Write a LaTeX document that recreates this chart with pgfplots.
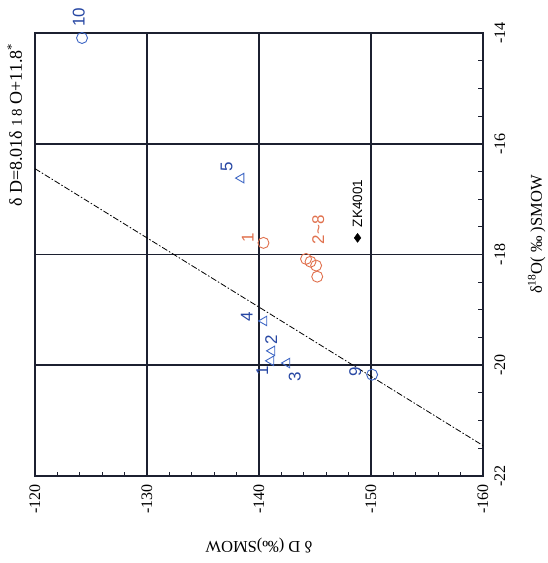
\documentclass[border=0pt]{standalone}
\usepackage{fontspec}
\setmainfont{Liberation Serif}
\newfontfamily\labelfont{Liberation Sans}
\usepackage{pgfplots}
\pgfplotsset{compat=1.18}

\definecolor{gridc}{HTML}{1C2030}
\definecolor{bluemk}{HTML}{3D66C4}
\definecolor{bluetx}{HTML}{2747A3}
\definecolor{redmk}{HTML}{E0714E}

\begin{document}
\begin{tikzpicture}[x=1pt,y=1pt]
\path[use as bounding box] (-35,-87) rectangle (513,476);
\begin{axis}[
  at={(0,0)}, anchor=south west,
  scale only axis, width=448pt, height=443pt,
  clip=false,
  xmin=-160, xmax=-120, x dir=reverse,
  ymin=-22, ymax=-14,
  xtick={-160,-150,...,-120}, ytick={-22,-20,...,-14},
  minor x tick num=4, minor y tick num=3,
  xtick pos=left, ytick pos=right,
  xticklabel pos=left, yticklabel pos=right,
  tick align=inside,
  major tick length=0pt, minor tick length=4.5pt,
  grid=major,
  major grid style={draw=gridc, line width=1.7pt},
  axis line style={draw=gridc, line width=1.5pt},
  tick style={draw=gridc, line width=1pt},
  /pgf/number format/assume math mode=true,
  tick label style={font=\fontsize{16}{18}\selectfont},
  xticklabel style={rotate=90, anchor=east},
  yticklabel style={rotate=90, anchor=north},
  xticklabel shift=5pt, yticklabel shift=8pt,
  xlabel={δ D (‰)SMOW}, ylabel={δ\textsuperscript{18}O( ‰ )SMOW},
  every axis x label/.style={at={(axis description cs:0.5,-0.158)}, anchor=center, rotate=180, font=\fontsize{16.5}{18}\selectfont},
  every axis y label/.style={at={(axis description cs:1.12,0.545)}, anchor=center, rotate=90, font=\fontsize{16.5}{18}\selectfont},
]
% meteoric water line dD = 8.01 d18O + 11.8
\addplot[black, line width=0.8pt, dash pattern=on 6pt off 2pt on 1.5pt off 2pt]
  coordinates {(-120,-16.45) (-160,-21.45)};

% blue triangles, samples 1-5
\addplot[only marks, mark=triangle, mark size=5.5pt, color=bluemk, mark options={rotate=90, line width=0.9pt}]
  coordinates {(-141.07,-19.92) (-141.16,-19.74) (-142.5,-19.96) (-140.45,-19.20) (-138.4,-16.62)};

% blue circles, samples 9 and 10
\addplot[only marks, mark=o, mark size=5.5pt, color=bluemk, mark options={line width=0.9pt}]
  coordinates {(-150.1,-20.17) (-124.2,-14.09)};

% red circles, samples 1 and 2-8
\addplot[only marks, mark=o, mark size=5.5pt, color=redmk, mark options={line width=0.9pt}]
  coordinates {(-140.4,-17.79) (-144.2,-18.08) (-144.6,-18.13) (-145.1,-18.20) (-145.2,-18.40)};

% borehole ZK4001
\addplot[only marks, mark=diamond*, mark size=4.5pt, color=black]
  coordinates {(-148.8,-17.70)};

% sample labels
\begin{scope}[every node/.style={rotate=90, inner sep=0pt, font=\labelfont\fontsize{17}{19}\selectfont}]
\node[text=bluetx] at (axis cs:-123.9,-13.72) {10};
\node[text=bluetx] at (axis cs:-137.1,-16.42) {5};
\node[text=bluetx] at (axis cs:-138.9,-19.13) {4};
\node[text=bluetx] at (axis cs:-141.1,-19.54) {2};
\node[text=bluetx] at (axis cs:-140.3,-20.10) {1};
\node[text=bluetx] at (axis cs:-143.2,-20.21) {3};
\node[text=bluetx] at (axis cs:-148.6,-20.12) {9};
\node[text=redmk] at (axis cs:-139.0,-17.70) {1};
\node[text=redmk] at (axis cs:-145.3,-17.55) {2\textasciitilde 8};
\node[text=black, font=\labelfont\fontsize{13.5}{15}\selectfont] at (axis cs:-148.8,-17.08) {ZK4001};
\end{scope}

% regression equation
\node[rotate=90, anchor=center, font=\fontsize{18}{20}\selectfont]
  at (axis description cs:-0.045,0.792) {δ D=8.01δ {\fontsize{15}{18}\selectfont 1\,8} O+11.8\textsuperscript{*}};
\end{axis}
\end{tikzpicture}
\end{document}
